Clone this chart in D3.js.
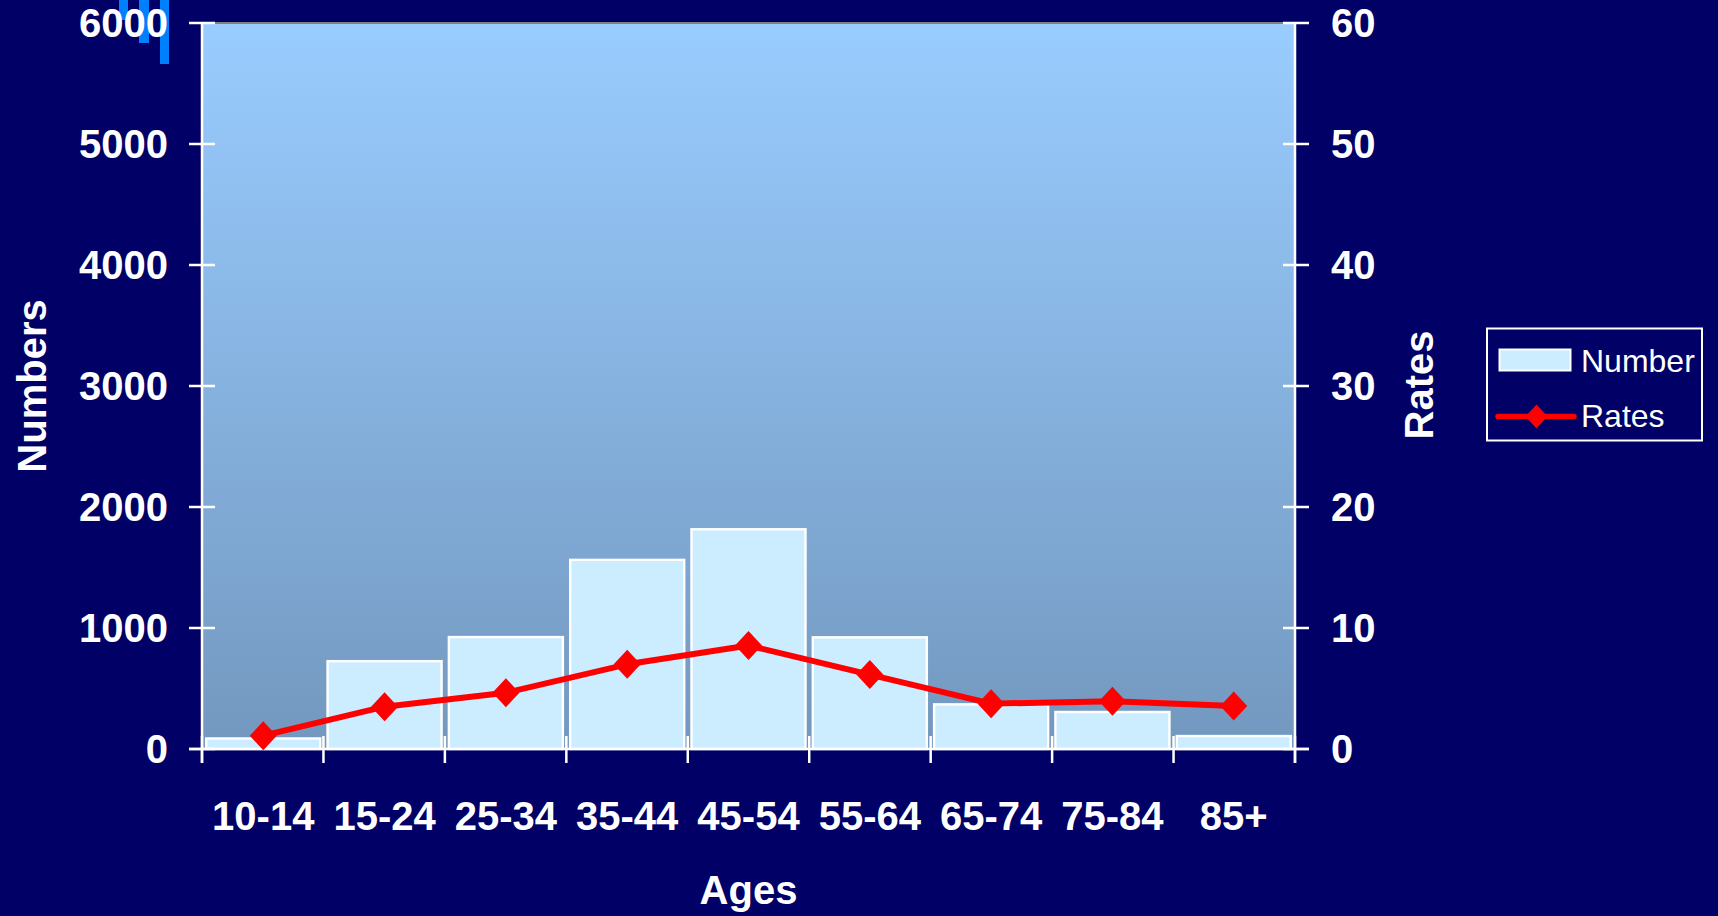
<!DOCTYPE html>
<html>
<head>
<meta charset="utf-8">
<script src="https://cdn.jsdelivr.net/npm/d3@7"></script>
<style>
  html, body { margin: 0; padding: 0; background: #000066; overflow: hidden; }
  svg { display: block; }
  text { font-family: "Liberation Sans", Arial, sans-serif; fill: #ffffff; }
</style>
</head>
<body>
<svg id="chart" width="1718" height="916"></svg>
<script>
const categories = ["10-14", "15-24", "25-34", "35-44", "45-54", "55-64", "65-74", "75-84", "85+"];
const numbers = [87, 726, 925, 1563, 1816, 923, 369, 306, 107];
const rates = [1.1, 3.5, 4.65, 7.0, 8.55, 6.15, 3.75, 3.95, 3.55];
const leftTicks = [0, 1000, 2000, 3000, 4000, 5000, 6000];
const rightTicks = [0, 10, 20, 30, 40, 50, 60];
const xTitle = "Ages", yLeftTitle = "Numbers", yRightTitle = "Rates";
const legendLabels = ["Number", "Rates"];

const W = 1718, H = 916;
const m = { left: 202, right: 1295, top: 23, bottom: 749 };
const svg = d3.select("#chart");

// decorative corner bars
const deco = [{x: 119, w: 9, h: 20}, {x: 139, w: 10, h: 43}, {x: 160, w: 9, h: 64}];
svg.selectAll("rect.deco").data(deco).join("rect")
  .attr("x", d => d.x).attr("y", 0).attr("width", d => d.w).attr("height", d => d.h)
  .attr("fill", "#0080ff");

// gradient
const defs = svg.append("defs");
const grad = defs.append("linearGradient").attr("id", "bg").attr("x1", 0).attr("y1", 0).attr("x2", 0).attr("y2", 1);
grad.append("stop").attr("offset", "0%").attr("stop-color", "#99ccff");
grad.append("stop").attr("offset", "100%").attr("stop-color", "#7398bf");

svg.append("rect").attr("x", m.left).attr("y", m.top)
  .attr("width", m.right - m.left).attr("height", m.bottom - m.top)
  .attr("fill", "url(#bg)");
svg.append("line").attr("x1", m.left).attr("x2", m.right).attr("y1", m.top).attr("y2", m.top)
  .attr("stroke", "#808080").attr("stroke-width", 2);

const x = d3.scaleBand().domain(categories).range([m.left, m.right]).paddingInner(0.06).paddingOuter(0.035);
const xEdge = d3.scaleLinear().domain([0, categories.length]).range([m.left, m.right]);
const yL = d3.scaleLinear().domain([0, 6000]).range([m.bottom, m.top]);
const yR = d3.scaleLinear().domain([0, 60]).range([m.bottom, m.top]);

// bars
svg.selectAll("rect.bar").data(categories).join("rect").attr("class", "bar")
  .attr("x", d => x(d)).attr("width", x.bandwidth())
  .attr("y", (d, i) => yL(numbers[i])).attr("height", (d, i) => yL(0) - yL(numbers[i]))
  .attr("fill", "#ccecff").attr("stroke", "#ffffff").attr("stroke-width", 2.4);

// axes lines
const axisCol = "#ffffff";
svg.append("line").attr("x1", m.left).attr("x2", m.left).attr("y1", m.top).attr("y2", m.bottom + 14)
  .attr("stroke", axisCol).attr("stroke-width", 2.5);
svg.append("line").attr("x1", m.right).attr("x2", m.right).attr("y1", m.top).attr("y2", m.bottom + 14)
  .attr("stroke", axisCol).attr("stroke-width", 2.5);
svg.append("line").attr("x1", m.left - 13).attr("x2", m.right + 14).attr("y1", m.bottom).attr("y2", m.bottom)
  .attr("stroke", axisCol).attr("stroke-width", 2.5);

// left ticks
svg.selectAll("line.lt").data(leftTicks).join("line")
  .attr("x1", m.left - 13).attr("x2", m.left + 13)
  .attr("y1", d => yL(d)).attr("y2", d => yL(d)).attr("stroke", axisCol).attr("stroke-width", 2.5);
svg.selectAll("text.lt").data(leftTicks).join("text")
  .attr("x", 168).attr("y", d => yL(d)).attr("dy", "0.36em")
  .attr("text-anchor", "end").attr("font-size", 40).attr("font-weight", "bold").text(d => d);

// right ticks
svg.selectAll("line.rt").data(rightTicks).join("line")
  .attr("x1", m.right - 12).attr("x2", m.right + 14)
  .attr("y1", d => yR(d)).attr("y2", d => yR(d)).attr("stroke", axisCol).attr("stroke-width", 2.5);
svg.selectAll("text.rt").data(rightTicks).join("text")
  .attr("x", 1331).attr("y", d => yR(d)).attr("dy", "0.36em")
  .attr("text-anchor", "start").attr("font-size", 40).attr("font-weight", "bold").text(d => d);

// bottom ticks
svg.selectAll("line.bt").data(d3.range(categories.length + 1)).join("line")
  .attr("x1", d => xEdge(d)).attr("x2", d => xEdge(d))
  .attr("y1", m.bottom - 13).attr("y2", m.bottom + 14).attr("stroke", axisCol).attr("stroke-width", 2.5);
svg.selectAll("text.bt").data(categories).join("text")
  .attr("x", d => x(d) + x.bandwidth() / 2).attr("y", 830)
  .attr("text-anchor", "middle").attr("font-size", 40).attr("font-weight", "bold").text(d => d);

// line
const line = d3.line().x((d, i) => x(categories[i]) + x.bandwidth() / 2).y(d => yR(d));
svg.append("path").datum(rates).attr("d", line).attr("fill", "none")
  .attr("stroke", "#ff0000").attr("stroke-width", 6).attr("stroke-linejoin", "round");
const diamond = (cx, cy, hw, hh) => `M${cx},${cy - hh}L${cx + hw},${cy}L${cx},${cy + hh}L${cx - hw},${cy}Z`;
svg.selectAll("path.mk").data(rates).join("path")
  .attr("d", (d, i) => diamond(x(categories[i]) + x.bandwidth() / 2, yR(d), 13.5, 14.5))
  .attr("fill", "#ff0000");

// titles
svg.append("text").attr("x", (m.left + m.right) / 2).attr("y", 904)
  .attr("text-anchor", "middle").attr("font-size", 40).attr("font-weight", "bold").text(xTitle);
svg.append("text").attr("transform", `translate(46,${(m.top + m.bottom) / 2}) rotate(-90)`)
  .attr("text-anchor", "middle").attr("font-size", 40).attr("font-weight", "bold").text(yLeftTitle);
svg.append("text").attr("transform", `translate(1433,${(m.top + m.bottom) / 2 - 1}) rotate(-90)`)
  .attr("text-anchor", "middle").attr("font-size", 40).attr("font-weight", "bold").text(yRightTitle);

// legend
const lg = svg.append("g");
lg.append("rect").attr("x", 1487).attr("y", 328.5).attr("width", 215).attr("height", 112)
  .attr("fill", "#000066").attr("stroke", "#ffffff").attr("stroke-width", 2);
lg.append("rect").attr("x", 1499.5).attr("y", 349.5).attr("width", 71).attr("height", 21)
  .attr("fill", "#ccecff").attr("stroke", "#ffffff").attr("stroke-width", 2);
lg.append("line").attr("x1", 1498).attr("x2", 1574).attr("y1", 416.5).attr("y2", 416.5)
  .attr("stroke", "#ff0000").attr("stroke-width", 5.5).attr("stroke-linecap", "round");
lg.append("path").attr("d", diamond(1536.5, 416.5, 11, 12)).attr("fill", "#ff0000");
lg.selectAll("text").data(legendLabels).join("text")
  .attr("x", 1581).attr("y", (d, i) => [372, 427][i])
  .attr("font-size", 32).text(d => d);
</script>
</body>
</html>
